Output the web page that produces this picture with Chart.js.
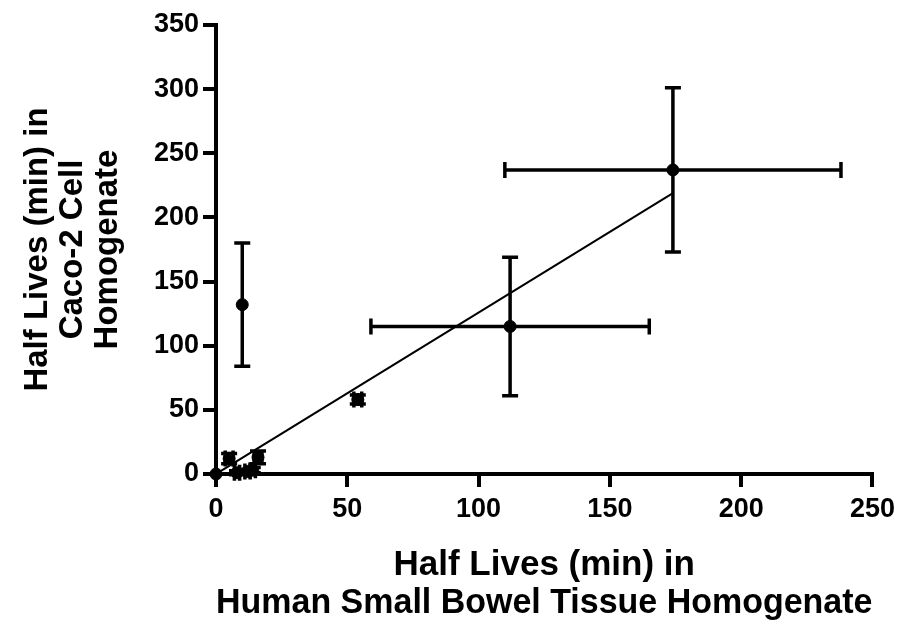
<!DOCTYPE html>
<html lang="en">
<head>
<meta charset="UTF-8">
<title>Half Lives: Small Bowel vs Caco-2</title>
<script src="https://cdn.jsdelivr.net/npm/chart.js"></script>
<style>
  body { margin: 0; background: #fff; }
  #wrap { width: 901px; height: 623px; }
</style>
</head>
<body>
<div id="wrap"><canvas id="halfLifeChart"></canvas></div>
<script>
// half lives (min): human small bowel homogenate (x) vs Caco-2 homogenate (y)
const bowelHalfLife = [0, 5, 8, 12, 14, 16, 10, 54, 112, 174];
const bowelErr      = [0, 1.5, 1, 1, 1, 1.5, 0, 1.5, 53, 64];
const cacoHalfLife  = [0, 12, 1, 2, 3, 13, 132, 58, 115, 237];
const cacoErr       = [0, 4, 1.5, 1.5, 2, 5, 48, 3.5, 54, 64];

// linear fit end points
const fitX = [0, 174];
const fitY = [0, 219];

const xTicks = [0, 50, 100, 150, 200, 250];
const yTicks = [0, 50, 100, 150, 200, 250, 300, 350];

const FONT = 'Liberation Sans, Arial, sans-serif';

// draws x and y error bars with caps
const errorBars = {
  id: 'errorBars',
  afterDatasetsDraw(chart) {
    const { ctx, scales: { x, y } } = chart;
    const cap = 8;
    ctx.save();
    ctx.strokeStyle = '#000';
    ctx.lineWidth = 3.5;
    bowelHalfLife.forEach((bx, i) => {
      const by = cacoHalfLife[i];
      const px = x.getPixelForValue(bx);
      const py = y.getPixelForValue(by);
      ctx.beginPath();
      if (cacoErr[i] > 0) {
        const top = y.getPixelForValue(by + cacoErr[i]);
        const bot = y.getPixelForValue(by - cacoErr[i]);
        ctx.moveTo(px, top); ctx.lineTo(px, bot);
        ctx.moveTo(px - cap, top); ctx.lineTo(px + cap, top);
        ctx.moveTo(px - cap, bot); ctx.lineTo(px + cap, bot);
      }
      if (bowelErr[i] > 0) {
        const lo = x.getPixelForValue(bx - bowelErr[i]);
        const hi = x.getPixelForValue(bx + bowelErr[i]);
        ctx.moveTo(lo, py); ctx.lineTo(hi, py);
        ctx.moveTo(lo, py - cap); ctx.lineTo(lo, py + cap);
        ctx.moveTo(hi, py - cap); ctx.lineTo(hi, py + cap);
      }
      ctx.stroke();
    });
    ctx.restore();
  }
};

const tickFont = { family: FONT, size: 27, weight: 'bold' };

new Chart(document.getElementById('halfLifeChart'), {
  type: 'scatter',
  data: {
    datasets: [{
      data: bowelHalfLife.map((v, i) => ({ x: v, y: cacoHalfLife[i] })),
      pointRadius: 6,
      backgroundColor: '#000',
      borderColor: '#000',
      clip: false
    }, {
      type: 'line',
      data: fitX.map((v, i) => ({ x: v, y: fitY[i] })),
      borderColor: '#000',
      borderWidth: 2,
      pointRadius: 0,
      fill: false
    }]
  },
  options: {
    responsive: true,
    maintainAspectRatio: false,
    animation: false,
    layout: { padding: { top: 25, right: 28, left: 0, bottom: 0 } },
    plugins: {
      legend: { display: false },
      tooltip: { enabled: false }
    },
    scales: {
      x: {
        type: 'linear',
        min: 0,
        max: 250,
        afterBuildTicks: s => { s.ticks = xTicks.map(v => ({ value: v })); },
        afterFit: s => { s.height = 149; },
        grid: { drawOnChartArea: false, color: '#000', lineWidth: 4, tickLength: 13 },
        border: { color: '#000', width: 4 },
        ticks: { color: '#000', font: tickFont, padding: 6, maxRotation: 0 },
        title: {
          display: true,
          text: ['Half Lives (min) in', 'Human Small Bowel Tissue Homogenate'],
          color: '#000',
          font: { family: FONT, size: 35, weight: 'bold', lineHeight: 1.086 },
          padding: { top: 0, bottom: 1 }
        }
      },
      y: {
        type: 'linear',
        min: 0,
        max: 350,
        afterBuildTicks: s => { s.ticks = yTicks.map(v => ({ value: v })); },
        afterFit: s => { s.width = 216; },
        grid: { drawOnChartArea: false, color: '#000', lineWidth: 4, tickLength: 13 },
        border: { color: '#000', width: 4 },
        ticks: { color: '#000', font: tickFont, padding: 4 },
        title: {
          display: true,
          text: ['Half Lives (min) in', 'Caco-2 Cell', 'Homogenate'],
          color: '#000',
          font: { family: FONT, size: 33, weight: 'bold', lineHeight: 1.07 },
          padding: { top: 20, bottom: 0 }
        }
      }
    }
  },
  plugins: [errorBars]
});
</script>
</body>
</html>
